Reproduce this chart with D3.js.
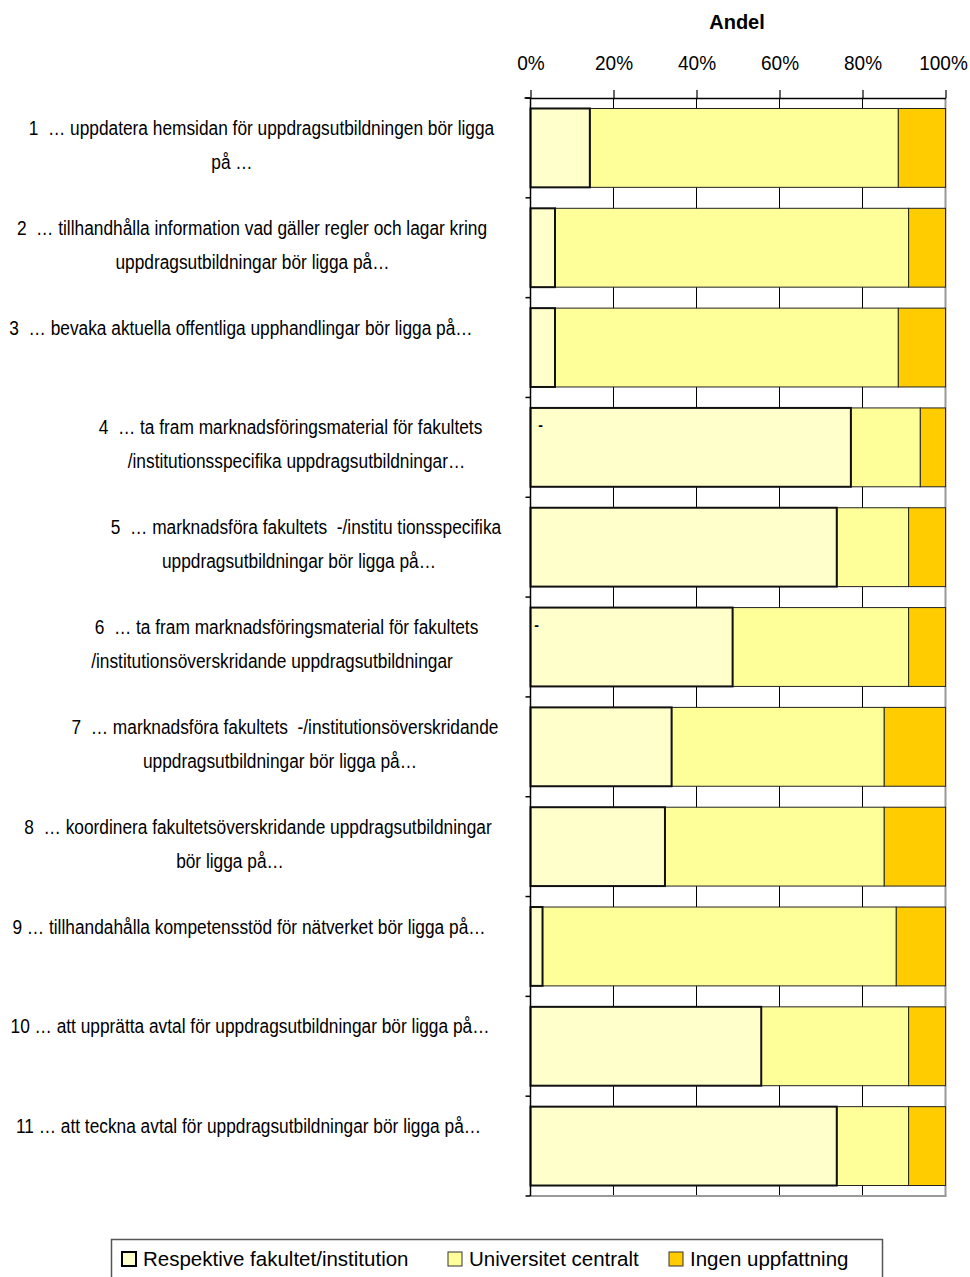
<!DOCTYPE html>
<html>
<head>
<meta charset="utf-8">
<script src="https://cdn.jsdelivr.net/npm/d3@7"></script>
<style>
  html, body { margin: 0; padding: 0; background: #fff; }
  svg { display: block; font-family: "Liberation Sans", Arial, sans-serif; }
</style>
</head>
<body>
<svg id="chart" width="970" height="1277"></svg>
<script>
// ---- data ----
const categories = [
  ["1  … uppdatera hemsidan för uppdragsutbildningen bör ligga", "på …"],
  ["2  … tillhandhålla information vad gäller regler och lagar kring", "uppdragsutbildningar bör ligga på…"],
  ["3  … bevaka aktuella offentliga upphandlingar bör ligga på…"],
  ["4  … ta fram marknadsföringsmaterial för fakultets", "/institutionsspecifika uppdragsutbildningar…"],
  ["5  … marknadsföra fakultets  -/institu tionsspecifika", "uppdragsutbildningar bör ligga på…"],
  ["6  … ta fram marknadsföringsmaterial för fakultets", "/institutionsöverskridande uppdragsutbildningar"],
  ["7  … marknadsföra fakultets  -/institutionsöverskridande", "uppdragsutbildningar bör ligga på…"],
  ["8  … koordinera fakultetsöverskridande uppdragsutbildningar", "bör ligga på…"],
  ["9 … tillhandahålla kompetensstöd för nätverket bör ligga på…"],
  ["10 … att upprätta avtal för uppdragsutbildningar bör ligga på…"],
  ["11 … att teckna avtal för uppdragsutbildningar bör ligga på…"]
];
const seriesNames = ["Respektive fakultet/institution", "Universitet centralt", "Ingen uppfattning"];
const respektive   = [14.3, 5.9, 5.9, 77.2, 73.8, 48.7, 34.0, 32.4, 2.9, 55.6, 73.8];
const universitet  = [74.3, 85.2, 82.7, 16.7, 17.3, 42.4, 51.2, 52.8, 85.2, 35.5, 17.3];
const ingen        = [11.4, 8.9, 11.4, 6.1, 8.9, 8.9, 14.8, 14.8, 11.9, 8.9, 8.9];
const tickValues = [0, 0.2, 0.4, 0.6, 0.8, 1];
const axisTitle = "Andel";
const dashRows = [3, 5]; // rows carrying a tiny "-" data label

// ---- layout / style ----
const colors = ["#FFFFCC", "#FFFF99", "#FFCC00"];
const svg = d3.select("#chart");
const plot = {left: 530.5, right: 945.5, top: 98, bottom: 1196};
const ids = categories.map((c, i) => i);

const x = d3.scaleLinear().domain([0, 1]).range([plot.left, plot.right]);
const y = d3.scaleBand().domain(ids).range([plot.top, plot.bottom])
  .paddingInner(0.21).paddingOuter(0.105);

// stacked data
const rows = ids.map(i => ({i, v: [respektive[i], universitet[i], ingen[i]]}));
const stack = d3.stack().keys([0, 1, 2]).value((d, k) => d.v[k] / 100)(rows);

// gridlines
svg.append("g").selectAll("line").data(tickValues.slice(1, -1)).join("line")
  .attr("x1", d => x(d)).attr("x2", d => x(d))
  .attr("y1", plot.top).attr("y2", plot.bottom)
  .attr("stroke", "#000").attr("stroke-width", 1);

// plot frame (right & bottom gray)
svg.append("line").attr("x1", x(1)).attr("x2", x(1)).attr("y1", plot.top).attr("y2", plot.bottom)
  .attr("stroke", "#999").attr("stroke-width", 2);
svg.append("line").attr("x1", plot.left).attr("x2", x(1) + 1).attr("y1", plot.bottom).attr("y2", plot.bottom)
  .attr("stroke", "#999").attr("stroke-width", 2);

// bars (draw later series first so first series border sits on top)
const order = [2, 1, 0];
order.forEach(k => {
  svg.append("g").selectAll("rect").data(stack[k]).join("rect")
    .attr("x", d => x(d[0]))
    .attr("width", d => x(d[1]) - x(d[0]))
    .attr("y", (d, j) => y(j))
    .attr("height", y.bandwidth())
    .attr("fill", colors[k])
    .attr("stroke", k === 0 ? "#111" : "#222")
    .attr("stroke-width", k === 0 ? 2 : 1);
});

// tiny dash labels
svg.append("g").selectAll("text").data(dashRows).join("text")
  .attr("x", (d, j) => x(0) + (j === 0 ? 10 : 6))
  .attr("y", d => y(d) + 22)
  .attr("font-size", 14).attr("font-weight", "bold").attr("text-anchor", "middle")
  .text("-");

// top axis
const axTop = svg.append("g").attr("transform", `translate(0,${plot.top})`)
  .call(d3.axisTop(x).tickValues(tickValues).tickFormat(d3.format(".0%")).tickSize(8).tickPadding(20).tickSizeOuter(0));
axTop.select(".domain").attr("stroke", "#000").attr("stroke-width", 1.5);
axTop.selectAll(".tick line").attr("stroke", "#000").attr("stroke-width", 1.2);
axTop.selectAll(".tick text").attr("font-size", 20).attr("fill", "#000")
  .attr("font-family", "'Liberation Sans', Arial, sans-serif")
  .each(function(d) {
    const w = this.getComputedTextLength();
    d3.select(this).attr("textLength", w * 0.95).attr("lengthAdjust", "spacingAndGlyphs");
    if (d === 1) d3.select(this).attr("x", -2.5);
  });
svg.append("line").attr("x1", plot.left - 6).attr("x2", plot.left).attr("y1", plot.top).attr("y2", plot.top)
  .attr("stroke", "#000").attr("stroke-width", 1.5);

// title
svg.append("text").attr("x", 737).attr("y", 29).attr("text-anchor", "middle")
  .attr("font-size", 20).attr("font-weight", "bold").text(axisTitle);

// left axis with boundary ticks
const boundaries = ids.map(i => y(i) - y.step() * y.paddingOuter()).concat([plot.bottom]);
svg.append("line").attr("x1", plot.left).attr("x2", plot.left).attr("y1", plot.top).attr("y2", plot.bottom)
  .attr("stroke", "#000").attr("stroke-width", 1.5);
svg.append("g").selectAll("line").data(boundaries).join("line")
  .attr("x1", plot.left - 5).attr("x2", plot.left)
  .attr("y1", d => d).attr("y2", d => d)
  .attr("stroke", "#000").attr("stroke-width", 1.5);

// category labels (centres of each line as in the original layout)
const labelCenters = [
  [261.5, 232], [252, 252.5], [241], [290.5, 296.5], [306, 299],
  [286.5, 272], [285, 280], [258, 230], [249], [250], [248.5]
];
const condense = 0.865;
const lbl = svg.append("g").attr("font-size", 20).attr("fill", "#000");
categories.forEach((lines, i) => {
  const top = y(i) - y.step() * y.paddingOuter();
  lines.forEach((ln, j) => {
    const t = lbl.append("text")
      .attr("x", labelCenters[i][j])
      .attr("y", top + 37 + j * 34)
      .attr("text-anchor", "middle")
      .style("white-space", "pre")
      .text(ln);
    const w = t.node().getComputedTextLength();
    t.attr("textLength", w * condense).attr("lengthAdjust", "spacingAndGlyphs");
  });
});

// legend
const lg = svg.append("g");
lg.append("rect").attr("x", 111.5).attr("y", 1239.5).attr("width", 771).attr("height", 60)
  .attr("fill", "#fff").attr("stroke", "#555").attr("stroke-width", 1.5);
const legendX = [122, 448, 669];
seriesNames.forEach((name, k) => {
  lg.append("rect").attr("x", legendX[k]).attr("y", 1252).attr("width", 14).attr("height", 14)
    .attr("fill", colors[k]).attr("stroke", k === 0 ? "#000" : "#333").attr("stroke-width", k === 0 ? 2 : 1);
  lg.append("text").attr("x", legendX[k] + 21).attr("y", 1266).attr("font-size", 20.5).text(name);
});
</script>
</body>
</html>
